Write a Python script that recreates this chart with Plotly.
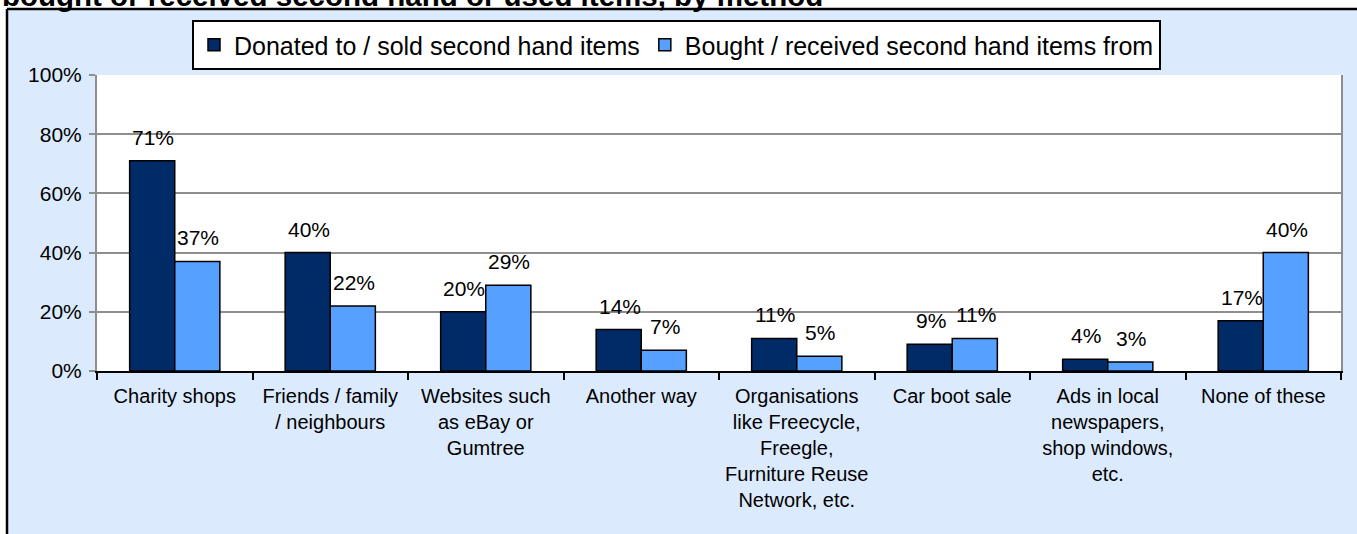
import plotly.graph_objects as go

# Survey results: share of respondents by method (percent)
categories = [
    "Charity shops",
    "Friends / family<br>/ neighbours",
    "Websites such<br>as eBay or<br>Gumtree",
    "Another way",
    "Organisations<br>like Freecycle,<br>Freegle,<br>Furniture Reuse<br>Network, etc.",
    "Car boot sale",
    "Ads in local<br>newspapers,<br>shop windows,<br>etc.",
    "None of these",
]
donated = [71, 40, 20, 14, 11, 9, 4, 17]
bought = [37, 22, 29, 7, 5, 11, 3, 40]
series_names = ["Donated to / sold second hand items", "Bought / received second hand items from"]
y_ticks = [0, 20, 40, 60, 80, 100]
y_tick_labels = ["0%", "20%", "40%", "60%", "80%", "100%"]
title_text = "bought or received second hand or used items, by method"

W, H = 1357, 534
ML, MR, MT, MB = 97, 16, 75, 163
PW, PH = W - ML - MR, H - MT - MB

def px_x(px):
    return (px - ML) / PW

def px_y(py):
    return (H - MB - py) / PH

FONT = "Liberation Sans, Arial, sans-serif"
DARK = "#002B66"
LIGHT = "#56A0FF"
PANEL = "#DCEAFD"
GRID = "#8E8E8E"

fig = go.Figure()
fig.add_trace(go.Bar(x=categories, y=donated, name=series_names[0],
                     marker=dict(color=DARK, line=dict(color="black", width=1.5))))
fig.add_trace(go.Bar(x=categories, y=bought, name=series_names[1],
                     marker=dict(color=LIGHT, line=dict(color="black", width=1.5))))

# Value labels above each bar
annotations = []
bar_half = 22.5
for cat, d, b in zip(categories, donated, bought):
    for val, shift in ((d, -bar_half), (b, bar_half)):
        annotations.append(dict(x=cat, y=val, xref="x", yref="y", text=f"{val}%",
                                showarrow=False, xshift=shift + 0.8, yshift=10,
                                yanchor="bottom", font=dict(family=FONT, size=21, color="black")))

# Chart title (top line runs off the top edge)
annotations.append(dict(x=px_x(0), y=px_y(14), xref="paper", yref="paper", text=f"<b>{title_text}</b>",
                        showarrow=False, xanchor="left", yanchor="bottom",
                        font=dict(family=FONT, size=29.5, color="black")))

shapes = [
    # white strip above the panel
    dict(type="rect", xref="paper", yref="paper", x0=px_x(-10), x1=px_x(W + 10), y0=px_y(9), y1=px_y(-10),
         fillcolor="white", line=dict(width=0), layer="below"),
    # white strip left of the panel
    dict(type="rect", xref="paper", yref="paper", x0=px_x(-10), x1=px_x(7), y0=px_y(H + 10), y1=px_y(9),
         fillcolor="white", line=dict(width=0), layer="below"),
    # panel border (top and left)
    dict(type="line", xref="paper", yref="paper", x0=px_x(7), x1=px_x(W + 10), y0=px_y(9), y1=px_y(9),
         line=dict(color="black", width=2.5), layer="above"),
    dict(type="line", xref="paper", yref="paper", x0=px_x(7), x1=px_x(7), y0=px_y(9), y1=px_y(H + 10),
         line=dict(color="black", width=2.5), layer="above"),
]

fig.update_layout(
    width=W, height=H,
    margin=dict(l=ML, r=MR, t=MT, b=MB, pad=0),
    paper_bgcolor=PANEL, plot_bgcolor="white",
    barmode="group", bargap=0.42, bargroupgap=0,
    font=dict(family=FONT, size=21, color="black"),
    showlegend=True,
    legend=dict(orientation="h", x=px_x((183 + 1170) / 2), xanchor="center",
                y=px_y(20), yanchor="top", bgcolor="white", bordercolor="black",
                borderwidth=2, font=dict(family=FONT, size=25, color="black"),
                traceorder="normal"),
    annotations=annotations,
    shapes=shapes,
)
fig.update_xaxes(showline=True, linecolor="black", linewidth=2, ticks="outside",
                 tickson="boundaries", ticklen=7, tickwidth=2, tickcolor="black",
                 showgrid=False, tickfont=dict(family=FONT, size=20, color="black"),
                 tickangle=0, ticklabelstandoff=6)
fig.update_yaxes(range=[0, 100], tickmode="array", tickvals=y_ticks, ticktext=y_tick_labels,
                 showline=True, linecolor=GRID, linewidth=2, mirror=True, ticks="outside", ticklen=6,
                 tickcolor=GRID, tickwidth=2, showgrid=True, gridcolor=GRID, gridwidth=1.5,
                 zeroline=False, ticklabelstandoff=3,
                 tickfont=dict(family=FONT, size=21, color="black"))

fig.write_html("out.html")
